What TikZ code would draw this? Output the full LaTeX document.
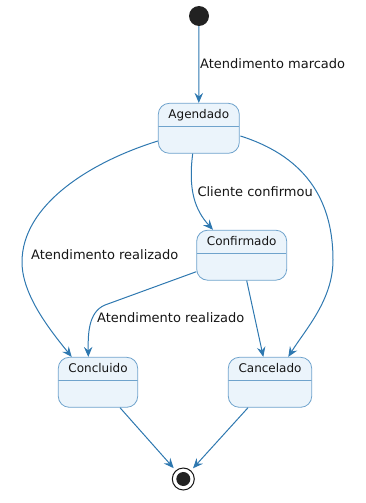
\documentclass[tikz,border=0pt]{standalone}
\usepackage{fontspec}
\setmainfont{DejaVu Sans}
\usetikzlibrary{arrows.meta,calc}
\definecolor{edgec}{HTML}{2E78B0}
\definecolor{boxline}{HTML}{6FA3CC}
\definecolor{boxfill}{HTML}{EBF4FB}
\definecolor{txt}{HTML}{151515}
\definecolor{dot}{HTML}{222222}
\tikzset{
  statebox/.style={draw=boxline, fill=boxfill, line width=0.8pt, rounded corners=11pt,
    minimum height=50pt, inner sep=0pt,
    path picture={\draw[boxline, line width=0.8pt]
      ([yshift=-23.4pt]path picture bounding box.north west) --
      ([yshift=-23.4pt]path picture bounding box.north east);}},
  stitle/.style={font=\fontsize{12}{14}\selectfont, text=txt, inner sep=0pt, anchor=base},
  elabel/.style={font=\fontsize{13}{15}\selectfont, text=txt, inner sep=0pt, anchor=base west},
  edge/.style={draw=edgec, line width=1pt, -{Stealth[length=10pt,width=8.5pt,inset=3.5pt]}},
}
\begin{document}
\begin{tikzpicture}[x=1pt,y=-1pt]
\useasboundingbox (0,0) rectangle (366,503);
% start and end
\node[circle, fill=dot, minimum size=20pt, inner sep=0pt] (start) at (199,16) {};
\node[circle, draw=txt, line width=1pt, fill=white, minimum size=22pt, inner sep=0pt] (end) at (183.3,479) {};
\node[circle, fill=dot, minimum size=14pt, inner sep=0pt] (endin) at (183.3,479) {};
% states
\node[statebox, minimum width=81pt] (ag) at (198.8,128.3) {};
\node[statebox, minimum width=90pt] (cf) at (241.7,255.2) {};
\node[statebox, minimum width=79.4pt] (co) at (98,382.3) {};
\node[statebox, minimum width=83.4pt] (ca) at (270,382.3) {};
\node[stitle] (agt) at ([yshift=-16pt]ag.north) {Agendado};
\node[stitle] (cft) at ([yshift=-16pt]cf.north) {Confirmado};
\node[stitle] (cot) at ([yshift=-16pt]co.north) {Concluido};
\node[stitle] (cat) at ([yshift=-16pt]ca.north) {Cancelado};
% coordinates
\coordinate (a1) at (22,262);
\coordinate (a2) at (333,260);
\coordinate (a3) at (105,305);
% edges
\draw[edge] (start) -- (ag.north);
\draw[edge] ($(ag.west)+(0,12.7)$) .. controls (90,162) and (22,205) .. (a1)
  .. controls (22,295) and (50,330) .. ($(co.north)+(-26.3,0)$);
\draw[edge] ($(ag.south)+(-6.1,0)$) .. controls (188,190) and (195,210) .. ($(cf.north)+(-28.7,0)$);
\draw[edge] ($(ag.east)+(0.7,7.7)$) .. controls (310,158) and (333,205) .. (a2)
  .. controls (333,300) and (305,330) .. ($(ca.north)+(18.3,0)$);
\draw[edge] ($(cf.west)+(0,16.5)$) -- (a3) .. controls (88,312) and (88,335) .. ($(co.north)+(-9.7,0)$);
\draw[edge] ($(cf.south)+(5,0)$) -- ($(ca.north)+(-6.7,0)$);
\draw[edge, shorten >=3pt] ($(co.south)+(22,0)$) -- (end);
\draw[edge, shorten >=3pt] ($(ca.south)+(-22,0)$) -- (end);
% labels
\node[elabel] (l1) at (200,68.7) {Atendimento marcado};
\node[elabel] (l2) at (197.3,196.4) {Cliente confirmou};
\node[elabel] (l3) at (31,259.7) {Atendimento realizado};
\node[elabel] (l4) at (97,322.7) {Atendimento realizado};
\end{tikzpicture}
\end{document}
